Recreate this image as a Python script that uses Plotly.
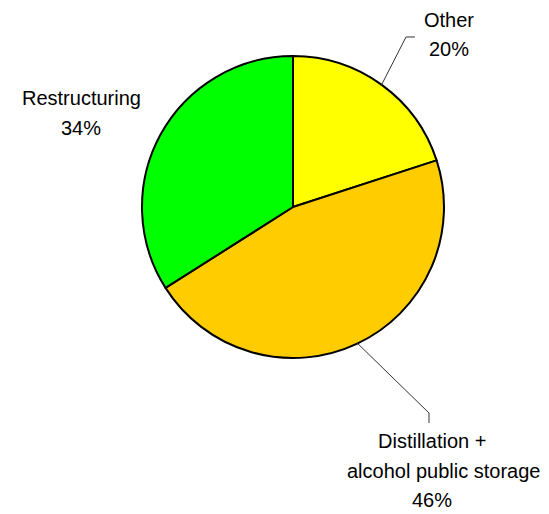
import math
import plotly.graph_objects as go

# Slice data, in drawing order (clockwise from 12 o'clock)
labels = ["Other", "Distillation + alcohol public storage", "Restructuring"]
values = [20, 46, 34]
colors = ["#FFFF00", "#FFCC00", "#00FF00"]

# Label text lines for each slice
label_lines = [
    ["Other", "20%"],
    ["Distillation +", "alcohol public storage", "46%"],
    ["Restructuring", "34%"],
]

W, H = 549, 514
CX, CY, R = 293, 207, 151  # pie centre and radius in pixels

FONT = dict(family="Liberation Sans, Arial, sans-serif", size=20, color="#000000")
LINE_PITCH = 29.5

fig = go.Figure(
    go.Pie(
        labels=labels,
        values=values,
        sort=False,
        direction="clockwise",
        rotation=0,
        marker=dict(colors=colors, line=dict(color="#000000", width=2)),
        textinfo="none",
        hoverinfo="label+percent",
        showlegend=False,
        domain=dict(
            x=[(CX - R) / W, (CX + R) / W],
            y=[1 - (CY + R) / H, 1 - (CY - R) / H],
        ),
    )
)


def px(x, y):
    return x / W, 1 - y / H


def edge_point(idx, inset=0):
    """Point on the rim at the middle angle of slice idx."""
    total = sum(values)
    start = sum(values[:idx]) / total
    mid = (start + values[idx] / total / 2) * 2 * math.pi
    r = R - inset
    return CX + r * math.sin(mid), CY - r * math.cos(mid)


# label block placement: (centre x of each line, y of first line centre)
label_pos = [
    ([449, 449], 20),
    ([432, 443, 432], 441),
    ([81, 81], 98),
]

annotations = []
for lines, (xs, y0) in zip(label_lines, label_pos):
    for k, (txt, xc) in enumerate(zip(lines, xs)):
        ax, ay = px(xc, y0 + k * LINE_PITCH)
        annotations.append(
            dict(
                x=ax, y=ay, xref="paper", yref="paper",
                text=txt, showarrow=False,
                xanchor="center", yanchor="middle",
                font=FONT,
            )
        )

# leader lines: rim point -> elbow -> end
shapes = []
leaders = {
    0: [(406, 37), (415, 37)],
    1: [(429, 413), (429, 423)],
}
for idx, pts in leaders.items():
    sx, sy = edge_point(idx, inset=1)
    path_pts = [(sx, sy)] + pts
    path = ""
    for j, (x, y) in enumerate(path_pts):
        a, b = px(x, y)
        path += ("M" if j == 0 else " L") + f" {a:.5f} {b:.5f}"
    shapes.append(
        dict(type="path", path=path, xref="paper", yref="paper",
             line=dict(color="#333333", width=1))
    )

fig.update_layout(
    width=W,
    height=H,
    margin=dict(l=0, r=0, t=0, b=0),
    paper_bgcolor="#FFFFFF",
    plot_bgcolor="#FFFFFF",
    annotations=annotations,
    shapes=shapes,
)

fig.write_html("out.html")
